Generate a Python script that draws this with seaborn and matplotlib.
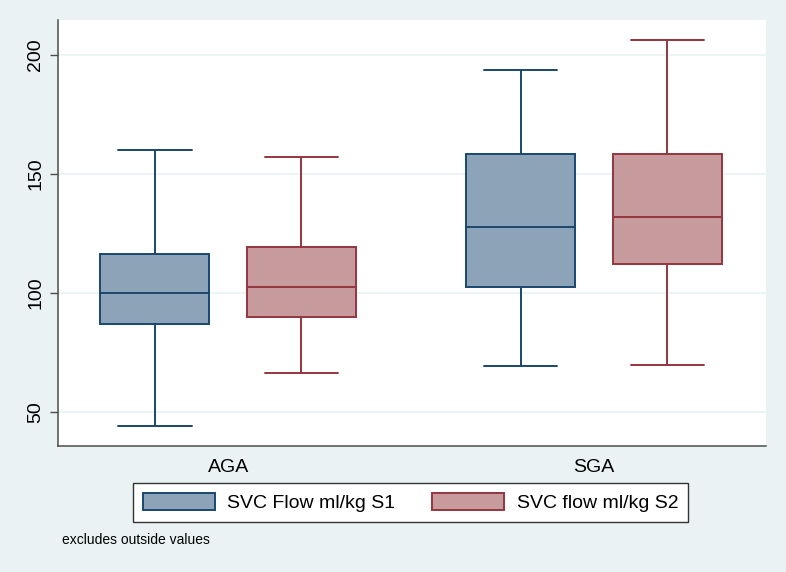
import seaborn as sns
import pandas as pd
import matplotlib.pyplot as plt
from matplotlib.patches import Patch

###################
# Data (five-number summaries: min, q1, median, q3, max)
groups = ["AGA", "SGA"]
series = ["SVC Flow ml/kg S1", "SVC flow ml/kg S2"]
s1_aga = [44.2, 87.1, 99.9, 116.2, 160.1]
s1_sga = [69.4, 102.5, 127.7, 158.4, 193.7]
s2_aga = [66.3, 90.0, 102.5, 119.4, 157.1]
s2_sga = [69.6, 112.3, 131.9, 158.4, 206.3]
yticks = [50, 100, 150, 200]
note = "excludes outside values"

rows = []
for grp, vals in zip(groups, [s1_aga, s1_sga]):
    rows += [(grp, series[0], v) for v in vals]
for grp, vals in zip(groups, [s2_aga, s2_sga]):
    rows += [(grp, series[1], v) for v in vals]
data = pd.DataFrame(rows, columns=["group", "series", "value"])

###################
# Setup
bg = "#EAF2F3"
line_colors = ["#1A476F", "#94363E"]
fill_colors = ["#8CA3B8", "#C79A9D"]

sns.set_style("white")
plt.rcParams["font.family"] = ["Liberation Sans", "DejaVu Sans"]
plt.rcParams["text.color"] = "black"
plt.rcParams["xtick.color"] = "black"
plt.rcParams["ytick.color"] = "black"

fig = plt.figure(figsize=(7.86, 5.72), dpi=100, facecolor=bg)
ax = fig.add_axes([58 / 786, 1 - 446 / 572, 708 / 786, 426 / 572])
ax.set_facecolor("white")

# one call per series so each gets its own line colour; dodge kept via hue_order
for s, lc, fc in zip(series, line_colors, fill_colors):
    sns.boxplot(data[data["series"] == s], ax=ax, x="group", y="value",
                hue="series", hue_order=series, order=groups, dodge=True,
                palette=[fc, fc], saturation=1, linecolor=lc, linewidth=1.4,
                whis=(0, 100), gap=0.255, width=0.8, capwidths=0.2,
                showfliers=False, legend=False)

###################
# Axes styling
ax.set_xlim(-0.465, 1.47)
ax.set_ylim(35.7, 214.7)
ax.set_yticks(yticks)
ax.yaxis.grid(True, color=bg, linewidth=1.2)
ax.set_axisbelow(True)
ax.set_xlabel("")
ax.set_ylabel("")
for side in ["top", "right"]:
    ax.spines[side].set_visible(False)
for side in ["left", "bottom"]:
    ax.spines[side].set_color("#4D4D4D")
    ax.spines[side].set_linewidth(1.1)
ax.tick_params(axis="y", length=6, width=1, color="#4D4D4D", labelcolor="black",
               pad=4, labelsize=14, left=True)
ax.tick_params(axis="x", length=0, pad=9, labelsize=14, labelcolor="black")
for lab in ax.get_yticklabels():
    lab.set_rotation(90)
    lab.set_va("center")

###################
# Legend + note
handles = [Patch(facecolor=fc, edgecolor=lc, linewidth=1.4)
           for lc, fc in zip(line_colors, fill_colors)]
leg = fig.legend(handles, series, loc="center", bbox_to_anchor=(0.5226, 0.1215),
                 ncol=2, fontsize=14, frameon=True, fancybox=False,
                 handlelength=3.7, handleheight=0.95, handletextpad=0.65,
                 columnspacing=1.9, borderpad=0.5, labelcolor="black")
leg.get_frame().set_edgecolor("#333333")
leg.get_frame().set_linewidth(1.0)
leg.get_frame().set_facecolor("white")
leg.get_frame().set_alpha(1)

fig.text(61.5 / 786, 1 - 540 / 572, note, fontsize=10, va="center", ha="left",
         color="black")

###################
# Export
fig.savefig("out.png", dpi=100, facecolor=bg)
